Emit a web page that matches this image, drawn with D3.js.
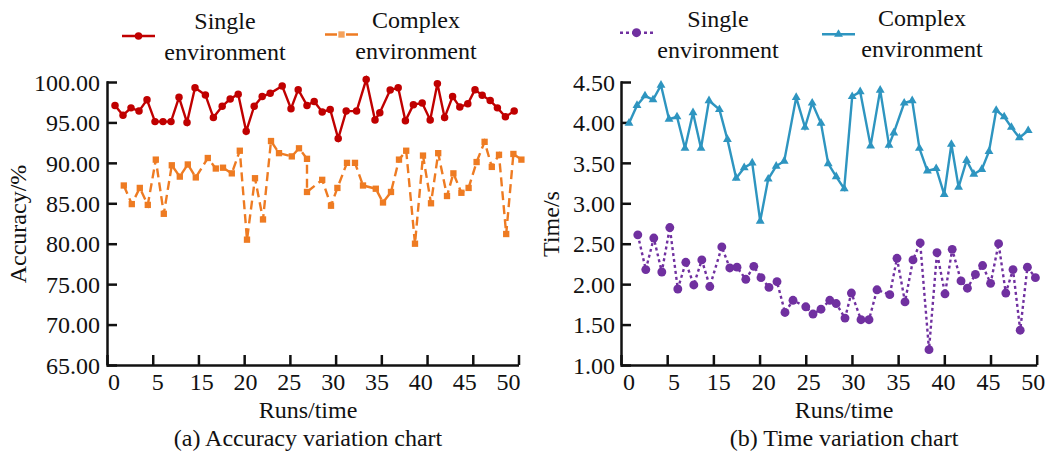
<!DOCTYPE html>
<html>
<head>
<meta charset="utf-8">
<script src="https://cdn.jsdelivr.net/npm/d3@7"></script>
<style>
    body { margin: 0; background: #fff; }
    svg text { font-family: "Liberation Serif", "Times New Roman", serif; font-size: 24px; fill: #111; }
    .axis path, .axis line { stroke: #111; stroke-width: 2.5px; }
</style>
</head>
<body>
<div id="chart"></div>
<script>
// run numbers (the x spacing is not even)
const runsUpper = [0, 1, 2, 3, 4, 5, 6, 7, 8, 9, 10, 11.3, 12.3, 13.4, 14.4, 15.4, 16.4, 17.4, 18.4, 19.4,
    20.9, 22, 22.9, 24, 24.9, 25.9, 26.9, 27.9, 28.9, 30.2, 31.4, 32.5, 33.1, 34.4, 35.4, 36.3, 37.3, 38.4, 39.4, 40.3,
    41.2, 42.2, 43.1, 44.1, 45, 45.9, 46.9, 47.8, 48.8, 49.9];
const runsLower = [1.1, 2.1, 3.1, 4.1, 5.1, 6.1, 7.1, 8.1, 9.1, 10.1, 11.6, 12.6, 13.5, 14.6, 15.6, 16.5, 17.5, 18.5, 19.5, 20.5,
    22.1, 23, 24, 25.1, 25.9, 27, 27.8, 29, 30, 31, 32.6, 33.5, 34.5, 35.5, 36.4, 37.5, 38.5, 39.5, 40.4, 41.5,
    42.3, 43.3, 44.2, 45.2, 46.2, 47.1, 48, 48.9, 49.8, 50.8];
const runsComplexAcc = [1.1, 2.1, 3.1, 4.1, 5.1, 6.1, 7.1, 8.1, 9.1, 10.1, 11.6, 12.6, 13.5, 14.6, 15.6, 16.5, 17.5, 18.5, 19.5, 20.5,
    22.1, 23, 24, 24, 25.9, 27, 27.8, 29, 30, 31, 32.6, 33.5, 34.5, 35.5, 36.4, 37.5, 38.5, 39.5, 40.4, 41.5,
    42.3, 43.3, 44.2, 45.2, 46.2, 47.1, 48, 48.9, 49.8, 50.8];

// accuracy (%)
const accSingle = [97.1, 95.9, 96.8, 96.4, 97.8, 95.1, 95.1, 95.1, 98.1, 95.0, 99.3, 98.4, 95.6, 97.0, 97.9, 98.5, 93.9, 97.0, 98.2, 98.6,
    99.5, 96.7, 99.05, 97.1, 97.6, 96.3, 96.6, 93.0, 96.4, 96.4, 100.3, 95.3, 96.2, 99.0, 99.3, 95.2, 97.2, 97.4, 95.3, 99.8,
    95.6, 98.2, 96.9, 97.3, 99.05, 98.35, 97.7, 96.8, 95.7, 96.4];
const accComplex = [87.2, 84.9, 86.9, 84.8, 90.4, 83.7, 89.7, 88.3, 89.8, 88.2, 90.6, 89.3, 89.4, 88.7, 91.5, 80.5, 88.1, 83.0, 92.7, 91.2,
    90.8, 91.8, 90.5, 86.4, 87.9, 84.7, 86.9, 90.0, 90.0, 87.2, 86.8, 85.1, 86.4, 90.4, 91.5, 80.0, 90.9, 85.0, 91.2, 85.9,
    88.7, 86.3, 86.9, 90.1, 92.6, 89.5, 91.0, 81.2, 91.1, 90.4];

// time (s)
const timeSingle = [2.61, 2.18, 2.57, 2.15, 2.70, 1.94, 2.27, 1.99, 2.30, 1.97, 2.46, 2.20, 2.21, 2.06, 2.22, 2.08, 1.96, 2.03, 1.65, 1.80,
    1.72, 1.63, 1.69, 1.80, 1.76, 1.58, 1.89, 1.56, 1.56, 1.93, 1.87, 2.32, 1.78, 2.30, 2.51, 1.19, 2.39, 1.88, 2.43, 2.04,
    1.95, 2.12, 2.23, 2.01, 2.50, 1.89, 2.18, 1.43, 2.21, 2.08];
const timeComplex = [3.99, 4.21, 4.33, 4.28, 4.46, 4.04, 4.07, 3.68, 4.12, 3.68, 4.27, 4.16, 3.79, 3.31, 3.44, 3.50, 2.78, 3.30, 3.46, 3.52,
    4.31, 3.94, 4.24, 3.99, 3.49, 3.33, 3.18, 4.32, 4.38, 3.71, 4.40, 3.72, 3.87, 4.24, 4.27, 3.68, 3.40, 3.43, 3.11, 3.73,
    3.20, 3.53, 3.36, 3.42, 3.64, 4.15, 4.07, 3.94, 3.81, 3.90];

const xTickLabels = ["0", "5", "15", "20", "25", "30", "35", "40", "45", "50"];
const accTicks = [65, 70, 75, 80, 85, 90, 95, 100];
const timeTicks = [1.0, 1.5, 2.0, 2.5, 3.0, 3.5, 4.0, 4.5];

class lineChartViz {
    constructor(svg, config) {
        this.svg = svg;
        this.config = config;
        this.initVis();
    }
    initVis() {
        let vis = this;
        let c = vis.config;

        vis.g = vis.svg.append("g");

        vis.x = d3.scaleLinear().domain([-1, 50]).range([c.left, c.left + 408]);
        vis.y = d3.scaleLinear().domain(c.yDomain).range([365, 82]);

        // tick marks and tick labels do not line up in the original
        vis.tickPos = d3.scalePoint().domain(xTickLabels).range(c.tickRange);
        vis.labelPos = d3.scalePoint().domain(xTickLabels).range(c.labelRange);

        vis.g.append("g")
            .attr("class", "axis")
            .attr("transform", "translate(0,365)")
            .call(d3.axisBottom(vis.tickPos).tickSize(-10).tickSizeOuter(0).tickFormat(""));

        vis.g.selectAll(".xlab")
            .data(xTickLabels)
            .enter().append("text")
            .attr("class", "xlab")
            .attr("x", d => vis.labelPos(d))
            .attr("y", 390)
            .attr("text-anchor", "middle")
            .text(d => d);

        let yAxis = vis.g.append("g")
            .attr("class", "axis")
            .attr("transform", "translate(" + c.axisX + ",0)")
            .call(d3.axisLeft(vis.y).tickValues(c.yTicks).tickSize(-10).tickSizeOuter(0)
                .tickPadding(c.pad).tickFormat(d3.format(".2f")));
        yAxis.selectAll("text").attr("font-size", 24).attr("font-family", null).attr("dy", "0.34em");
        yAxis.select(".domain").attr("stroke-linecap", "square");

        vis.g.append("text")
            .attr("transform", "translate(" + c.yTitleX + ",224) rotate(-90)")
            .attr("text-anchor", "middle")
            .text(c.yTitle);

        vis.g.append("text")
            .attr("x", c.titleX).attr("y", 418)
            .attr("text-anchor", "middle")
            .text("Runs/time");

        vis.g.append("text")
            .attr("x", c.titleX).attr("y", 446)
            .attr("text-anchor", "middle")
            .text(c.caption);

        c.series.forEach(s => vis.drawSeries(s));
    }
    drawSeries(s) {
        let vis = this;
        let line = d3.line()
            .x((d, i) => vis.x(s.runs[i]))
            .y(d => vis.y(d))
            .curve(d3.curveLinear);

        vis.g.append("path")
            .datum(s.values)
            .attr("d", line)
            .attr("fill", "none")
            .attr("stroke", s.color)
            .attr("stroke-width", 2.4)
            .attr("stroke-dasharray", s.dash);

        vis.g.selectAll(".pt-" + s.id)
            .data(s.values)
            .enter().append("path")
            .attr("class", "pt-" + s.id)
            .attr("d", d3.symbol().type(s.symbol).size(s.size))
            .attr("transform", (d, i) => "translate(" + vis.x(s.runs[i]) + "," + vis.y(d) + ")")
            .attr("fill", s.color);

        // legend entry
        let lg = vis.g.append("g");
        lg.append("line")
            .attr("x1", s.legend.x1).attr("x2", s.legend.x1 + 33)
            .attr("y1", s.legend.y).attr("y2", s.legend.y)
            .attr("stroke", s.color)
            .attr("stroke-width", 2.4)
            .attr("stroke-dasharray", s.legendDash || null);
        lg.append("path")
            .attr("d", d3.symbol().type(s.symbol).size(s.size))
            .attr("transform", "translate(" + (s.legend.x1 + 16.5) + "," + s.legend.y + ")")
            .attr("fill", s.legendColor || s.color);
        lg.append("text")
            .attr("x", s.legend.tx).attr("y", s.legend.ty1)
            .attr("text-anchor", "middle")
            .text(s.label);
        lg.append("text")
            .attr("x", s.legend.tx).attr("y", s.legend.ty2)
            .attr("text-anchor", "middle")
            .text("environment");
    }
}

let svg = d3.select("#chart").append("svg")
    .attr("width", 1056)
    .attr("height", 459);

new lineChartViz(svg, {
    left: 107, axisX: 107, pad: 7,
    tickRange: [107, 518.5], labelRange: [114, 508.5],
    yDomain: [65, 100], yTicks: accTicks,
    yTitle: "Accuracy/%", yTitleX: 26,
    titleX: 308, caption: "(a) Accuracy variation chart",
    series: [
        {id: "accc", label: "Complex", runs: runsComplexAcc, values: accComplex, color: "#EE7B22",
            legendColor: "#F4A25C", dash: "9,5", legendDash: "12,9", symbol: d3.symbolSquare, size: 40,
            legend: {x1: 325, y: 34.5, tx: 416, ty1: 28, ty2: 59}},
        {id: "accs", label: "Single", runs: runsUpper, values: accSingle, color: "#C00000",
            dash: null, symbol: d3.symbolCircle, size: 44,
            legend: {x1: 122, y: 36, tx: 225, ty1: 29, ty2: 60}}
    ]
});

new lineChartViz(svg, {
    left: 621, axisX: 621, pad: 6,
    tickRange: [621, 1036.7], labelRange: [629, 1033.3],
    yDomain: [1, 4.5], yTicks: timeTicks,
    yTitle: "Time/s", yTitleX: 559,
    titleX: 844, caption: "(b) Time variation chart",
    series: [
        {id: "tc", label: "Complex", runs: runsUpper, values: timeComplex, color: "#2E95C0",
            dash: null, symbol: d3.symbolTriangle, size: 34,
            legend: {x1: 822, y: 34.3, tx: 922, ty1: 26, ty2: 57}},
        {id: "ts", label: "Single", runs: runsLower, values: timeSingle, color: "#7030A0",
            dash: "3,3", legendDash: "3,3", symbol: d3.symbolCircle, size: 62,
            legend: {x1: 620, y: 32.7, tx: 718, ty1: 27.3, ty2: 58.3}}
    ]
});
</script>
</body>
</html>
